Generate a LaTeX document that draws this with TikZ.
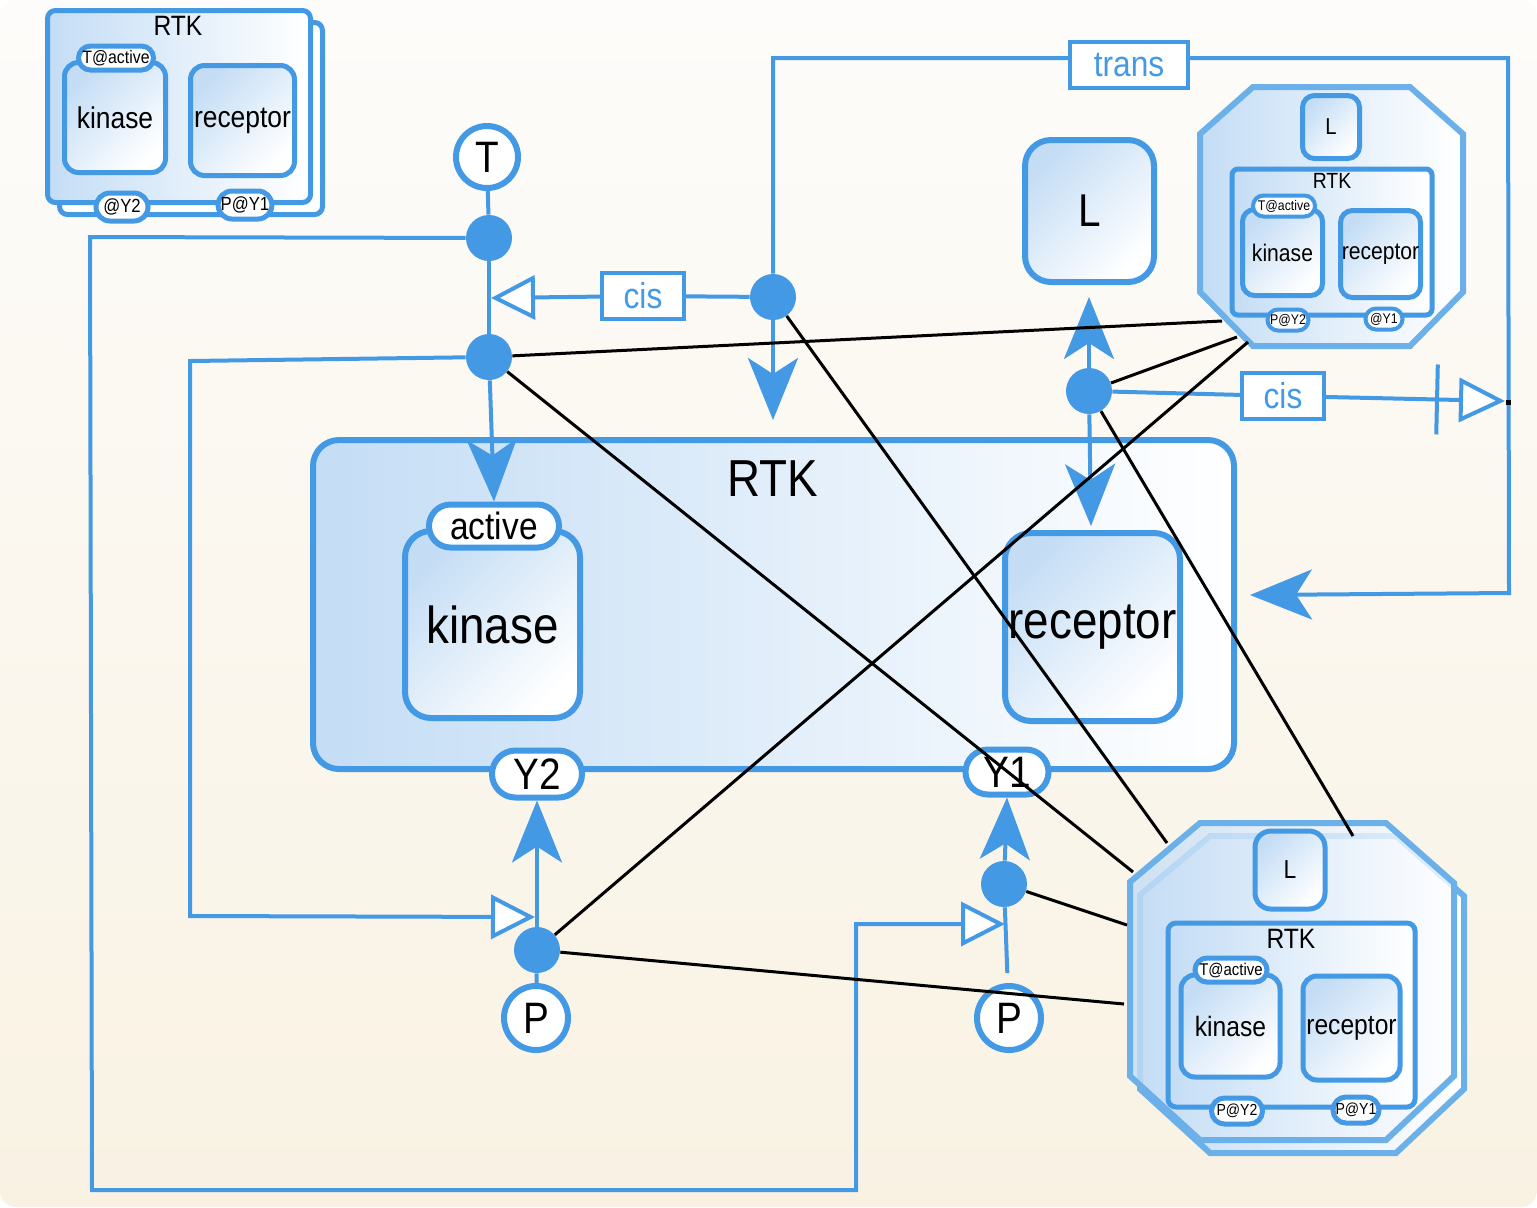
\documentclass[tikz,border=0pt]{standalone}
\usepackage{fontspec}
\setmainfont{Liberation Sans}[FakeStretch=0.88]
\usetikzlibrary{arrows.meta,shapes.misc}
\definecolor{bl}{HTML}{4499E4}
\definecolor{bll}{HTML}{6CB0EA}
\definecolor{lb}{HTML}{C4DDF5}
\definecolor{bgtop}{HTML}{FDFCFA}
\definecolor{bgbot}{HTML}{F9F2E3}
\newcommand\fsz[1]{\fontsize{#1}{#1}\selectfont}
\pgfdeclarelayer{bgl}
\pgfdeclarelayer{fgl}
\pgfsetlayers{bgl,main,fgl}
\begin{document}
\begin{tikzpicture}[x=0.5pt,y=-0.5pt,
  bline/.style={draw=bl,line width=2pt},
  blk/.style={draw=black,line width=1.5pt},
  dot/.style={circle,fill=bl,draw=none,minimum size=23pt,inner sep=0pt},
  bigarr/.style={-{Stealth[length=31pt,width=25pt,inset=8pt]}},
  opentri/.style={-{Triangle[fill=white,length=22pt,width=22pt]}},
  bartri/.style={-{Bar[width=35pt,sep=10pt] Triangle[fill=white,length=23pt,width=22pt]}},
  boxb/.style={draw=bl,line width=3pt,inner sep=0pt},
  diag/.style={top color=lb,bottom color=white,shading angle=45},
  horz/.style={left color=lb,right color=white},
  pill/.style={rounded rectangle,draw=bl,line width=2.5pt,fill=white,inner sep=0pt},
  circ/.style={circle,draw=bl,line width=3pt,fill=white,inner sep=0pt,minimum size=32pt,font=\fsz{22pt}},
  lblbox/.style={rectangle,draw=bl,line width=2pt,fill=white,text=bl,inner sep=0pt,minimum width=41pt,minimum height=23pt,font=\fsz{18pt}},
  octa/.style={draw=bll,line width=3pt,horz}
]
\useasboundingbox (0,0) rectangle (1537,1207);
\begin{pgfonlayer}{bgl}
  \fill[white] (0,0) rectangle (1537,1207);
  \shade[top color=bgtop,bottom color=bgbot,rounded corners=8pt] (0,0) rectangle (1537,1207);
\end{pgfonlayer}

% ---------- top-left complex ----------
\node[boxb,line width=2.5pt,rounded corners=4pt,fill=white,minimum width=131.5pt,minimum height=96pt] (tlB) at (191,118.5) {};
\node[boxb,line width=2.5pt,rounded corners=4pt,horz,minimum width=131.5pt,minimum height=96pt] (tlF) at (179,106.5) {};
\node[font=\fsz{14pt}] (tlT) at (178,26) {RTK};
\node[boxb,line width=2.5pt,diag,rounded corners=7pt,minimum width=50.5pt,minimum height=55pt,font=\fsz{15pt}] (tlK) at (115,117.5) {kinase};
\node[pill,minimum width=37.5pt,minimum height=12pt,font=\fsz{9pt}] (tlA) at (116,58) {T@active};
\node[boxb,line width=2.5pt,diag,rounded corners=7pt,minimum width=52pt,minimum height=55pt,font=\fsz{15pt}] (tlR) at (242.5,120.5) {receptor};
\node[pill,minimum width=26pt,minimum height=14pt,font=\fsz{9.5pt}] (tlY2) at (122,207) {@Y2};
\node[pill,minimum width=25pt,minimum height=14pt,font=\fsz{9.5pt}] (tlY1) at (245,205) {P@Y1};

% ---------- top-right complex ----------
\path[octa] (1253,87) -- (1410,87) -- (1463,134) -- (1463,292) -- (1410,346) -- (1253,346) -- (1200,292) -- (1200,134) -- cycle;
\node[boxb,line width=2.5pt,diag,rounded corners=6pt,minimum width=28.5pt,minimum height=31.5pt,font=\fsz{11.5pt}] (trL) at (1331,127) {L};
\node[boxb,line width=2.5pt,horz,rounded corners=3pt,minimum width=100pt,minimum height=73pt] (trRTK) at (1332,242) {};
\node[font=\fsz{11pt}] (trT) at (1332,181) {RTK};
\node[boxb,line width=2.5pt,diag,rounded corners=6pt,minimum width=40pt,minimum height=43pt,font=\fsz{12pt}] (trK) at (1282.5,252.5) {kinase};
\node[pill,line width=2pt,minimum width=31pt,minimum height=10.5pt,font=\fsz{7pt}] (trA) at (1284,206) {T@active};
\node[boxb,line width=2.5pt,diag,rounded corners=6pt,minimum width=40pt,minimum height=43.5pt,font=\fsz{12pt}] (trR) at (1380.5,254) {receptor};
\node[pill,line width=2pt,minimum width=20.5pt,minimum height=10.5pt,font=\fsz{7pt}] (trY2) at (1288,320) {P@Y2};
\node[pill,line width=2pt,minimum width=18.5pt,minimum height=10.5pt,font=\fsz{7pt}] (trY1) at (1384,319) {@Y1};

% ---------- bottom-right complex ----------
\path[octa] (1210,836) -- (1396,836) -- (1464,896) -- (1464,1089) -- (1396,1153) -- (1210,1153) -- (1140,1089) -- (1140,895) -- cycle;
\path[octa,fill opacity=0.8] (1200,823) -- (1386,823) -- (1454,883) -- (1454,1076) -- (1386,1140) -- (1200,1140) -- (1130,1076) -- (1130,882) -- cycle;
\node[boxb,line width=2.5pt,diag,rounded corners=8pt,minimum width=35pt,minimum height=39pt,font=\fsz{13pt}] (brL) at (1290,870) {L};
\node[boxb,line width=2.5pt,horz,rounded corners=4pt,minimum width=123.5pt,minimum height=92pt] (brRTK) at (1291.5,1015) {};
\node[font=\fsz{14pt}] (brT) at (1291,939) {RTK};
\node[boxb,line width=2.5pt,diag,rounded corners=7pt,minimum width=49.5pt,minimum height=51pt,font=\fsz{14pt}] (brK) at (1230.5,1026) {kinase};
\node[pill,minimum width=36pt,minimum height=12pt,font=\fsz{8.5pt}] (brA) at (1231,970) {T@active};
\node[boxb,line width=2.5pt,diag,rounded corners=7pt,minimum width=48.5pt,minimum height=52pt,font=\fsz{14pt}] (brR) at (1351.5,1028) {receptor};
\node[pill,minimum width=25.5pt,minimum height=13pt,font=\fsz{8pt}] (brY2) at (1237,1111) {P@Y2};
\node[pill,minimum width=23pt,minimum height=13pt,font=\fsz{8pt}] (brY1) at (1356,1110) {P@Y1};

% ---------- main RTK ----------
\node[boxb,horz,rounded corners=13pt,minimum width=460.5pt,minimum height=164.5pt] (rtk) at (773.5,604.5) {};
\node[font=\fsz{26pt}] (rtkT) at (773,479) {RTK};
\node[boxb,diag,rounded corners=13pt,minimum width=87.5pt,minimum height=93.5pt,font=\fsz{26pt}] (kin) at (492.5,624.5) {kinase};
\node[pill,line width=3pt,minimum width=65pt,minimum height=21.5pt,font=\fsz{19pt}] (act) at (494,526) {active};
\node[boxb,diag,rounded corners=13pt,minimum width=87.5pt,minimum height=94pt,font=\fsz{26pt}] (rec) at (1092.5,627) {receptor};
\node[pill,line width=3pt,minimum width=45pt,minimum height=23.5pt,font=\fsz{22pt}] (y2) at (537,774) {Y2};
\node[pill,line width=3pt,minimum width=41.5pt,minimum height=22.5pt,font=\fsz{22pt}] (y1) at (1007,772) {Y1};

% ---------- free entities ----------
\node[circ,minimum size=31pt] (T) at (487,157) {T};
\node[circ] (P1) at (536,1018) {P};
\node[circ] (P2) at (1009,1018) {P};
\node[boxb,diag,rounded corners=13pt,minimum width=64.5pt,minimum height=71pt,font=\fsz{23pt}] (L) at (1089.5,211) {L};

% ---------- process dots ----------
\node[dot] (d1) at (489,238) {};
\node[dot] (d2) at (489,357) {};
\node[dot] (d3) at (773,297) {};
\node[dot] (d4) at (1089,391) {};
\node[dot] (d5) at (537,950) {};
\node[dot] (d6) at (1004,884) {};

% ---------- labels on connectors (on top) ----------
\begin{pgfonlayer}{fgl}
  \node[lblbox] (cis1) at (643,296) {cis};
  \node[lblbox] (cis2) at (1283,396) {cis};
  \node[lblbox,minimum width=59pt] (trans) at (1129,65) {trans};
\end{pgfonlayer}

% ---------- coordinates ----------
\coordinate (c1t) at (491,298);
\coordinate (d3t) at (773,420);
\coordinate (r1) at (773,58);
\coordinate (r2) at (1508,58);
\coordinate (r3) at (1509,593);
\coordinate (rtkR) at (1250,595);
\coordinate (Lt) at (1089,297);
\coordinate (rect) at (1091,526);
\coordinate (c2t) at (1505,401);
\coordinate (c3t) at (1005,924);
\coordinate (c4t) at (535,917);
\coordinate (q1) at (90,237);
\coordinate (q2) at (92,1190);
\coordinate (q3) at (856,1190);
\coordinate (q4) at (856,924);
\coordinate (s1) at (190,361);
\coordinate (s2) at (190,916);
\coordinate (k1) at (1222,321);
\coordinate (k2) at (1237,337);
\coordinate (k3) at (1248,342);
\coordinate (m1) at (1133,872);
\coordinate (m2) at (1167,843);
\coordinate (m3) at (1353,836);
\coordinate (m4) at (1124,1004);
\coordinate (m5) at (1127,925);

% ---------- blue connectors ----------
\draw[bline] (T) -- (d1);
\draw[bline] (d1) -- (d2);
\draw[bline,bigarr] (d2) -- (act.north);
\draw[bline,opentri] (d3) -- (cis1) -- (c1t);
\draw[bline,bigarr] (d3) -- (d3t);
\draw[bline,bigarr] (d3) -- (r1) -- (trans.west |- r1) (trans.east |- r2) -- (r2) -- (r3) -- (rtkR);
\draw[bline] (trans.west |- r1) -- (trans.east |- r2);
\draw[bline,bigarr] (d4) -- (Lt);
\draw[bline,bigarr] (d4) -- (rect);
\draw[bline,bartri] (d4) -- (cis2) -- (c2t);
\fill[black] (1505.5,399.5) rectangle (1510.5,404.5);
\draw[bline,opentri] (d1) -- (q1) -- (q2) -- (q3) -- (q4) -- (c3t);
\draw[bline,opentri] (d2) -- (s1) -- (s2) -- (c4t);
\draw[bline] (P1) -- (d5);
\draw[bline,bigarr] (d5) -- (y2.south);
\draw[bline,shorten >=5pt] (d6) -- (P2);
\draw[bline,bigarr] (d6) -- (y1.south);

% ---------- black links ----------
\draw[blk] (d2) -- (k1);
\draw[blk] (d2) -- (m1);
\draw[blk] (d3) -- (m2);
\draw[blk] (d4) -- (k2);
\draw[blk] (d4) -- (m3);
\draw[blk] (d5) -- (k3);
\draw[blk] (d5) -- (m4);
\draw[blk] (d6) -- (m5);
\end{tikzpicture}
\end{document}
